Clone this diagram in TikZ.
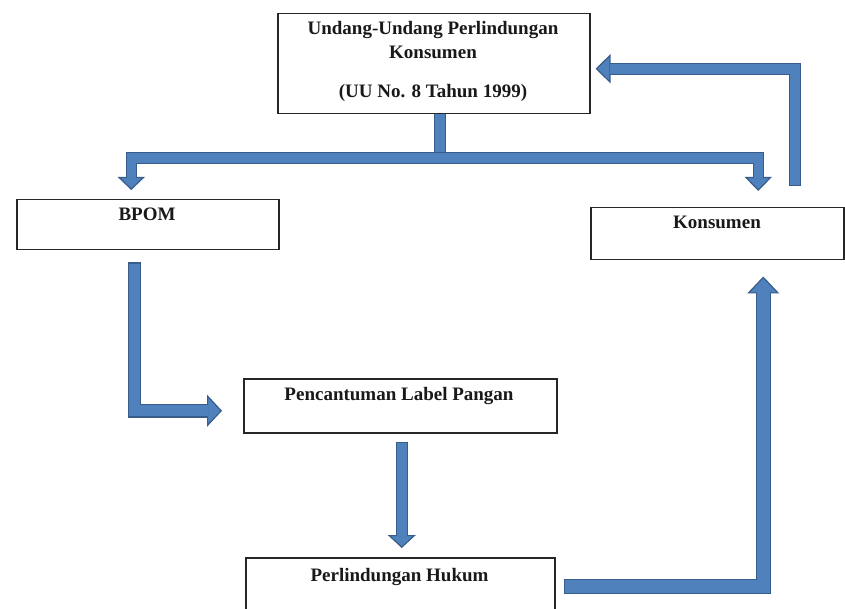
\documentclass[tikz,border=0pt]{standalone}
\usepackage{fontspec}
\setmainfont{Liberation Serif}
\usetikzlibrary{arrows.meta,calc}
\definecolor{afill}{RGB}{79,129,189}
\definecolor{aborder}{RGB}{56,93,138}
\tikzset{
  box/.style={draw=black!85, line width=1.5pt, fill=white, anchor=north west, inner sep=0pt},
  lbl/.style={font=\bfseries\fontsize{19}{22}\selectfont, text=black!90, anchor=base, inner sep=0pt},
  shaftline/.style n args={2}{draw=aborder, line width=#1, line join=miter, line cap=butt,
    postaction={draw=afill, line width=#2, -}},
  blk/.style n args={5}{draw=aborder, line width=#1, line join=miter, line cap=butt,
    -{Triangle[width=#3, length=#4, fill=afill, line width=1.2pt]},
    postaction={draw=afill, line width=#2, -, shorten >=#5, shorten <=1.2pt}},
  blknostart/.style n args={5}{draw=aborder, line width=#1, line join=miter, line cap=butt,
    -{Triangle[width=#3, length=#4, fill=afill, line width=1.2pt]},
    postaction={draw=afill, line width=#2, -, shorten >=#5}}
}
\begin{document}
\begin{tikzpicture}[x=1pt, y=-1pt]
\useasboundingbox (0,0) rectangle (845,609);
\clip (0,0) rectangle (845,609);
\fill[white] (0,0) rectangle (845,609);

% boxes
\node[box, minimum width=312pt, minimum height=100pt] (uu) at (277,13) {};
\node[box, minimum width=262pt, minimum height=50pt] (bpom) at (16,199) {};
\node[box, minimum width=253pt, minimum height=52pt] (kons) at (590,207) {};
\node[box, minimum width=313pt, minimum height=54pt] (pl) at (243,378) {};
\node[box, minimum width=309pt, minimum height=60pt] (ph) at (245,557) {};

% texts
\node[lbl] (uut1) at (433,35) {Undang-Undang Perlindungan};
\node[lbl] (uut2) at (433,59) {Konsumen};
\node[lbl] (uut3) at (433,98) {(UU No. 8 Tahun 1999)};
\node[lbl] (bpomt) at (147,221) {BPOM};
\node[lbl] (konst) at (717,229) {Konsumen};
\node[lbl] (plt) at (399,400.5) {Pencantuman Label Pangan};
\node[lbl] (pht) at (399.5,581) {Perlindungan Hukum};

% connectors
\coordinate (j) at ([shift={(6,43.5)}]uu.south);
\draw[shaftline={12pt}{9.6pt}] ([xshift=6]uu.south) -- ([yshift=-5]j);
\draw[blknostart={11.5pt}{9.1pt}{27pt}{13pt}{12pt}] (j) -| ([shift={(-16.5,-9)}]bpom.north);
\draw[blknostart={11.5pt}{9.1pt}{27pt}{14pt}{13pt}] (j) -| ([shift={(41,-16)}]kons.north);
\draw[blk={12pt}{9.6pt}{29pt}{15pt}{14pt}] ([shift={(78,-21)}]kons.north) |- ([shift={(5,5)}]uu.east);
\draw[blk={13.5pt}{11.1pt}{32pt}{15pt}{14pt}] ([shift={(-13.5,12)}]bpom.south) |- ([shift={(-21,5)}]pl.west);
\draw[blk={12.5pt}{10.1pt}{28pt}{13pt}{12pt}] ([shift={(1.5,8)}]pl.south) -- ([shift={(1.5,-9)}]ph.north);
\draw[blk={15pt}{12.6pt}{32pt}{17pt}{16pt}] ([shift={(8,-1.5)}]ph.east) -| ([shift={(46,16)}]kons.south);
\end{tikzpicture}
\end{document}
